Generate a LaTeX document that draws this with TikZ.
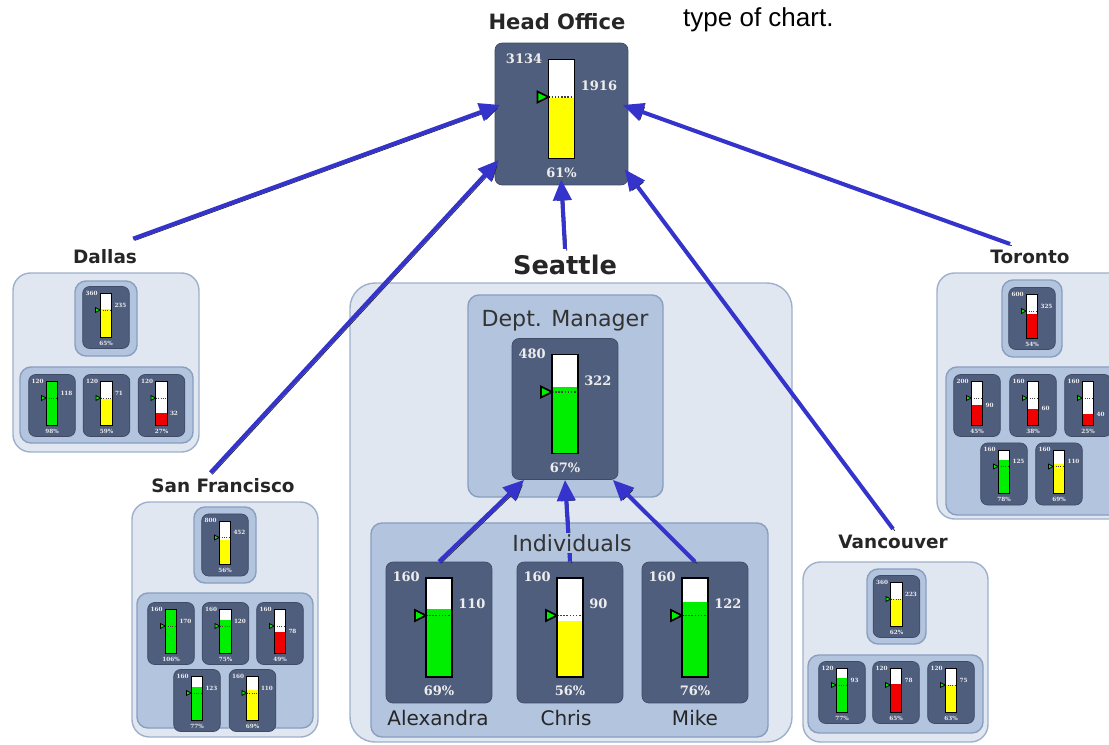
\documentclass[tikz,border=0pt]{standalone}
\usepackage{fontspec}
\setmainfont{DejaVu Sans}
\newfontfamily\numfont{DejaVu Serif}
\newfontfamily\notefont{Liberation Sans}
\usetikzlibrary{arrows.meta}

\definecolor{gaugefill}{RGB}{80,94,126}
\definecolor{gaugeedge}{RGB}{62,74,102}
\definecolor{paleblue}{RGB}{224,231,241}
\definecolor{paleedge}{RGB}{158,176,205}
\definecolor{midblue}{RGB}{178,196,222}
\definecolor{midedge}{RGB}{138,158,192}
\definecolor{linkblue}{RGB}{52,52,204}
\definecolor{okgreen}{RGB}{0,238,0}
\definecolor{warnyellow}{RGB}{255,255,0}
\definecolor{badred}{RGB}{240,0,0}

\tikzset{
  gaugebox/.style = {draw=gaugeedge, fill=gaugefill, rounded corners=0.14cm, minimum width=2.12cm, minimum height=2.82cm, inner sep=0pt},
  gnum/.style = {font=\numfont\bfseries\fontsize{7.4}{8}\selectfont, text=black!7, inner sep=0pt},
  outerbox/.style = {draw=paleedge, fill=paleblue, line width=0.8pt, rounded corners=0.35cm},
  innerbox/.style = {draw=midedge, fill=midblue, line width=0.8pt, rounded corners=0.22cm},
  headlbl/.style = {font=\bfseries\fontsize{12}{14}\selectfont, text=black!85},
  bigcity/.style = {font=\bfseries\fontsize{14.6}{16}\selectfont, text=black!85},
  city/.style = {font=\bfseries\fontsize{10.5}{12}\selectfont, text=black!85},
  grouplbl/.style = {font=\fontsize{12.6}{14}\selectfont, text=black!80},
  person/.style = {font=\fontsize{11.4}{13}\selectfont, text=black!85},
  note/.style = {font=\notefont\fontsize{14.8}{17}\selectfont},
  link/.style = {line width=2.3pt, linkblue, -{Triangle[length=0.42cm, width=0.36cm]},
    preaction={draw=black!85, fill=black!85, transform canvas={xshift=1pt, yshift=-1pt}}},
  tohead/.style = {link, shorten >=-0.12cm}
}

% [box options]{name}{x}{y}{scale}{fill colour}{top value}{actual value}
\newcommand{\gauge}[8][]{%
  \pgfmathsetmacro{\gfrac}{min(#8/#7,1)}%
  \pgfmathtruncatemacro{\gpct}{round(100*(#8/#7))}%
  \pgfmathsetmacro{\gtop}{44.5-99*\gfrac}%
  \pgfmathsetmacro{\gry}{\gfrac<0.5 ? \gtop : -28.5}%
  \begin{scope}[shift={(#3,#4)}, scale=#5, transform shape]
    \node[gaugebox, #1] (#2) at (0,0) {};
    \fill[white] (-13,-54.5) rectangle (13,44.5);
    \fill[#6] (-13,\gtop) rectangle (13,44.5);
    \draw[black!75, densely dotted, line width=#5*0.8pt] (-13,-17) -- (13,-17);
    \draw[line width=#5*1pt] (-13,-54.5) rectangle (13,44.5);
    \filldraw[fill=okgreen, draw=black, line width=#5*1pt] (-24,-22.5) -- (-13,-17) -- (-24,-11.5) -- cycle;
    \node[gnum, anchor=east] at (-19,-55.5) {#7};
    \node[gnum, anchor=west] at (19,\gry) {#8};
    \node[gnum] at (0,58.5) {\gpct\%};
  \end{scope}}

\begin{document}
\begin{tikzpicture}[x=0.02cm, y=-0.02cm]
\clip (0,0) rectangle (1109,744);

\node[note, anchor=base west] (note) at (677,26) {type of chart.};

\node[headlbl] (headlbl) at (557,22) {Head Office};
\gauge[minimum width=2.66cm, minimum height=2.84cm]{ho}{561.5}{114}{1}{warnyellow}{3134}{1916}

\draw[outerbox, rounded corners=0.5cm] (350,283) rectangle (792,742);
\node[bigcity] (seattle) at (565,265) {Seattle};
\draw[innerbox] (468,295) rectangle (663,497);
\node[grouplbl] (dmlbl) at (565,321) {Dept. Manager};
\gauge{dm}{565}{409}{1}{okgreen}{480}{322}
\draw[innerbox] (371,523) rectangle (768,737);
\gauge{alex}{439}{632.5}{1}{okgreen}{160}{110}
\gauge{chris}{570}{632.5}{1}{warnyellow}{160}{90}
\gauge{mike}{695}{632.5}{1}{okgreen}{160}{122}
\node[person] (alexlbl) at (438,718) {Alexandra};
\node[person] (chrislbl) at (566,718) {Chris};
\node[person] (mikelbl) at (695,718) {Mike};

\node[city] (dallas) at (105,257) {Dallas};
\draw[outerbox] (13,273) rectangle (199,452);
\draw[innerbox] (75,281) rectangle (137,356);
\gauge{d0}{106}{317.5}{0.44}{warnyellow}{360}{235}
\draw[innerbox] (20,367) rectangle (193,443);
\gauge{d1}{52}{405.5}{0.44}{okgreen}{120}{118}
\gauge{d2}{106.5}{405.5}{0.44}{warnyellow}{120}{71}
\gauge{d3}{161.5}{405.5}{0.44}{badred}{120}{32}

\node[city] (sf) at (223,486) {San Francisco};
\draw[outerbox] (132,502) rectangle (318,737);
\draw[innerbox] (194,507) rectangle (256,583);
\gauge{s0}{225}{545}{0.44}{warnyellow}{800}{452}
\draw[innerbox] (137,593) rectangle (313,728);
\gauge{s1}{171}{633.5}{0.44}{okgreen}{160}{170}
\gauge{s2}{225.5}{633.5}{0.44}{okgreen}{160}{120}
\gauge{s3}{280}{633.5}{0.44}{badred}{160}{78}
\gauge{s4}{197}{700.5}{0.44}{okgreen}{160}{123}
\gauge{s5}{252.5}{700.5}{0.44}{warnyellow}{160}{110}

\node[city] (toronto) at (1030,257) {Toronto};
\draw[outerbox] (937,273) rectangle (1130,519);
\draw[innerbox] (1002,280) rectangle (1062,357);
\gauge{t0}{1032}{318.5}{0.44}{badred}{600}{325}
\draw[innerbox] (946,367) rectangle (1122,515);
\gauge{t1}{977}{405.5}{0.44}{badred}{200}{90}
\gauge{t2}{1033}{405.5}{0.44}{badred}{160}{60}
\gauge{t3}{1088}{405.5}{0.44}{badred}{160}{40}
\gauge{t4}{1004}{474}{0.44}{okgreen}{160}{125}
\gauge{t5}{1059}{474}{0.44}{warnyellow}{160}{110}

\node[city] (vancouver) at (893,542) {Vancouver};
\draw[outerbox] (803,562) rectangle (988,742);
\draw[innerbox] (867,569) rectangle (926,644);
\gauge{v0}{896.5}{606.5}{0.44}{warnyellow}{360}{223}
\draw[innerbox] (808,655) rectangle (983,733);
\gauge{v1}{842}{692.5}{0.44}{okgreen}{120}{93}
\gauge{v2}{896}{692.5}{0.44}{badred}{120}{78}
\gauge{v3}{951}{692.5}{0.44}{warnyellow}{120}{75}

\draw[tohead] ([xshift=-0.2cm, yshift=0.1cm]dallas.north east) -- (ho.174);
\draw[tohead] ([xshift=-0.25cm]sf.north) -- (ho.217);
\draw[tohead] (seattle.north) -- (ho.south);
\draw[tohead] (vancouver.north) -- (ho.318);
\draw[tohead] ([xshift=-0.4cm]toronto.north) -- (ho.6);

\draw[link] (alex.north) -- (dm.240);
\draw[link] (chris.north) -- (dm.south);
\draw[link] (mike.north) -- (dm.304);

\node[grouplbl, fill=midblue, inner sep=1pt] (indlbl) at (572,543) {Individuals};

\end{tikzpicture}
\end{document}
